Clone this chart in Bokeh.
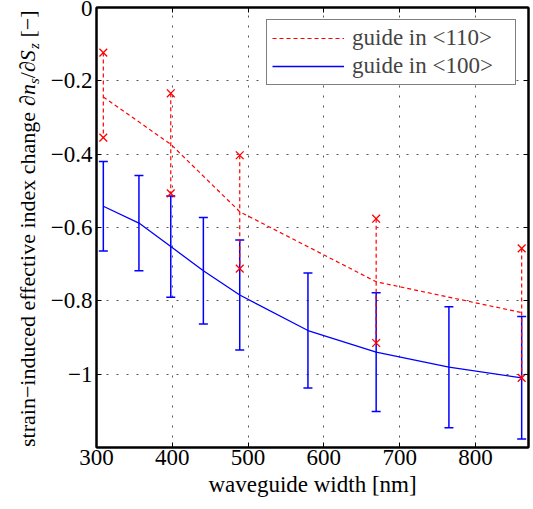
import math
from bokeh.plotting import figure
from bokeh.layouts import row
from bokeh.models import (Range1d, FixedTicker, LinearAxis, Label, Whisker,
                          TeeHead, ColumnDataSource)
from bokeh.embed import file_html
from bokeh.resources import INLINE

# ---------------- data ----------------
blue_x = [309, 356, 398, 441, 489, 579, 669, 765, 861]
blue_y = [-0.542, -0.588, -0.652, -0.718, -0.784, -0.881, -0.940, -0.981, -1.010]
blue_err = [0.122, 0.130, 0.138, 0.145, 0.150, 0.157, 0.162, 0.165, 0.167]

red_x = [309, 398, 489, 669, 861]
red_mid = [-0.244, -0.373, -0.557, -0.748, -0.832]
red_upper = [-0.123, -0.234, -0.403, -0.576, -0.657]
red_lower = [-0.355, -0.507, -0.712, -0.915, -1.010]

x_ticks = [300, 400, 500, 600, 700, 800]
x_tick_labels = ["300", "400", "500", "600", "700", "800"]
y_ticks = [-1.0, -0.8, -0.6, -0.4, -0.2, 0.0]
y_tick_labels = ["\u22121", "\u22120.8", "\u22120.6", "\u22120.4", "\u22120.2", "0"]

legend_red = "guide in <110>"
legend_blue = "guide in <100>"
x_label = "waveguide width [nm]"
y_label_main = "strain\u2212induced effective index change"

X0, X1 = 300, 870
Y0, Y1 = -1.2, 0.0

# ---------------- layout ----------------
W, H = 533, 509
LBL_W = 44
LEFT, RIGHT, TOP, BOTTOM = 96, 5, 7, 62
FONT = "Liberation Serif"
RED = "#ff0000"
BLUE = "#0000ff"

p = figure(width=W - LBL_W, height=H, output_backend="svg", toolbar_location=None,
           x_range=Range1d(X0, X1), y_range=Range1d(Y0, Y1),
           min_border_left=LEFT - LBL_W, min_border_right=RIGHT,
           min_border_top=TOP, min_border_bottom=BOTTOM)
p.background_fill_color = "white"
p.border_fill_color = "white"
p.outline_line_color = "black"
p.outline_line_width = 2

for ax in (p.xaxis[0], p.yaxis[0]):
    ax.axis_line_width = 2
    ax.axis_line_color = "black"
    ax.major_tick_in = 5
    ax.major_tick_out = 0
    ax.major_tick_line_width = 1
    ax.minor_tick_in = 0
    ax.minor_tick_out = 0
    ax.major_label_text_font = FONT
    ax.major_label_text_font_size = "23px"
    ax.major_label_text_color = "black"

p.xaxis[0].ticker = FixedTicker(ticks=x_ticks)
p.xaxis[0].major_label_overrides = dict(zip(x_ticks, x_tick_labels))
p.xaxis[0].major_label_standoff = 2
p.xaxis[0].axis_label = x_label
p.xaxis[0].axis_label_text_font = FONT
p.xaxis[0].axis_label_text_font_size = "23px"
p.xaxis[0].axis_label_text_font_style = "normal"
p.xaxis[0].axis_label_text_color = "black"
p.xaxis[0].axis_label_standoff = 4

p.yaxis[0].ticker = FixedTicker(ticks=y_ticks)
p.yaxis[0].major_label_overrides = dict(zip(y_ticks, y_tick_labels))
p.yaxis[0].major_label_standoff = 4

# box ticks on the top and right edges (labels not drawn)
for side, t in (("above", x_ticks), ("right", y_ticks)):
    bax = LinearAxis(ticker=FixedTicker(ticks=t), major_tick_in=5,
                     major_tick_out=0, minor_tick_in=0, minor_tick_out=0,
                     axis_line_color="black", axis_line_width=2,
                     major_tick_line_width=1,
                     major_label_text_color=None,
                     major_label_text_font_size="1px",
                     major_label_standoff=0)
    p.add_layout(bax, side)

for g, t in ((p.xgrid[0], x_ticks), (p.ygrid[0], y_ticks)):
    g.ticker = FixedTicker(ticks=t)
    g.grid_line_color = "#555555"
    g.grid_line_dash = "2 8"
    g.grid_line_width = 1

# ---------------- glyphs ----------------
p.segment(x0=red_x, y0=red_upper, x1=red_x, y1=red_lower,
          line_color=RED, line_dash="4 3", line_width=1.2)

bsrc = ColumnDataSource(dict(
    x=blue_x,
    upper=[y + e for y, e in zip(blue_y, blue_err)],
    lower=[y - e for y, e in zip(blue_y, blue_err)],
))
wh = Whisker(base="x", upper="upper", lower="lower", source=bsrc,
             line_color=BLUE, line_width=1.5,
             upper_head=TeeHead(size=9, line_color=BLUE, line_width=1.5),
             lower_head=TeeHead(size=9, line_color=BLUE, line_width=1.5))
p.add_layout(wh)

p.line(red_x, red_mid, line_color=RED, line_dash="4 3",
       line_width=1.2, legend_label=legend_red)
p.line(blue_x, blue_y, line_color=BLUE, line_width=1.3,
       legend_label=legend_blue)

p.scatter(red_x + red_x, red_upper + red_lower, marker="x", size=11,
          line_color=RED, line_width=1.3)

lg = p.legend[0]
lg.location = "top_right"
lg.margin = 12
lg.padding = 5
lg.spacing = 2
lg.glyph_width = 72
lg.glyph_height = 26
lg.label_height = 26
lg.label_width = 158
lg.label_standoff = 8
lg.label_text_font = FONT
lg.label_text_font_size = "23px"
lg.border_line_color = "black"
lg.border_line_width = 1.2
lg.background_fill_color = "white"
lg.background_fill_alpha = 1.0

# ---------------- rotated y-axis label in its own narrow panel ----------------
lfig = figure(width=LBL_W, height=H, output_backend="svg", toolbar_location=None,
              x_range=Range1d(0, LBL_W), y_range=Range1d(BOTTOM, H - TOP),
              x_axis_type=None, y_axis_type=None,
              min_border_left=0, min_border_right=0,
              min_border_top=0, min_border_bottom=0)
lfig.outline_line_color = None
lfig.grid.visible = False
lfig.background_fill_color = "white"
lfig.border_fill_color = "white"

SZ = 22
SUB = 15
parts = [
    (y_label_main, SZ, "normal", 15.254 + 0.25, 0),
    ("\u2202", SZ, "normal", 0.494, 0),
    ("n", SZ, "italic", 0.5, 0),
    ("s", SUB, "italic", 0.389, 6),
    ("/\u2202", SZ, "normal", 0.278 + 0.494, 0),
    ("S", SZ, "italic", 0.56, 0),
    ("z", SUB, "italic", 0.389, 6),
    ("[\u2212]", SZ, "normal", 1.23, 0),
]
cur = 446.5
centre_px = 27.0
for txt, size, style, adv, shift in parts:
    if txt.startswith("["):
        cur -= 0.25 * SZ
    lfig.add_layout(Label(x=centre_px + shift, y=H - cur,
                          x_units="data", y_units="data", text=txt,
                          angle=math.pi / 2, angle_units="rad",
                          text_align="left", text_baseline="middle",
                          text_font=FONT, text_font_size=f"{size}px",
                          text_font_style=style, text_color="black"))
    cur -= adv * size

layout = row(lfig, p, spacing=0)
open("out.html", "w").write(file_html(layout, INLINE))
